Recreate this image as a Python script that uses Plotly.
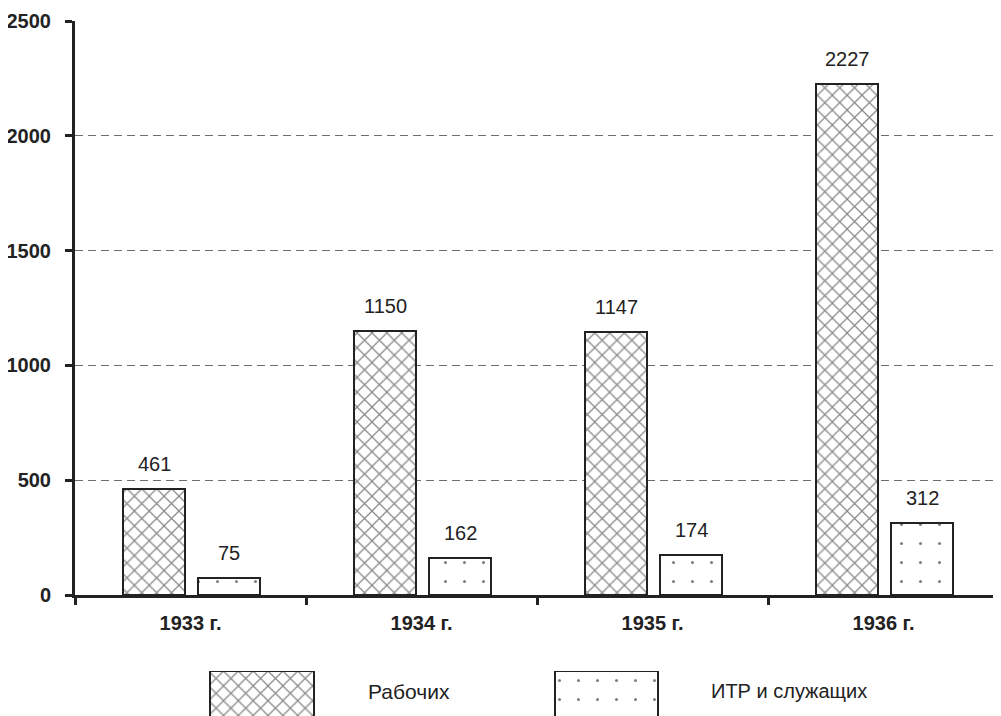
import plotly.graph_objects as go

# ---- data ----
years = ["1933 г.", "1934 г.", "1935 г.", "1936 г."]
workers = [461, 1150, 1147, 2227]
itr = [75, 162, 174, 312]
series_names = ["Рабочих", "ИТР и служащих"]
y_ticks = [0, 500, 1000, 1500, 2000, 2500]

FONT = "Liberation Sans, Arial, sans-serif"

PAGE_OFF = 8  # default body margin of the html page
W, H = 1001 - PAGE_OFF, 716 - PAGE_OFF
ML, MR, MT, MB = 75 - PAGE_OFF, 2, 21 - PAGE_OFF, 0
plot_w = W - ML - MR
plot_h = H - MT - MB
main_bottom = (716 - 595) / plot_h
leg_top = (716 - 671) / plot_h


def px_x(p):
    return (p - 75) / plot_w


def px_y(p):
    return (716 - p) / plot_h


cross = dict(shape="x", size=10.5, solidity=0.22, fgcolor="#111", bgcolor="white", fillmode="overlay")
dots = dict(shape=".", size=19, solidity=0.02, fgcolor="#000", bgcolor="white", fillmode="overlay")

BW = 0.27
OFF1, OFF2 = -0.292, 0.033

fig = go.Figure()
fig.add_trace(go.Bar(
    x=years, y=workers, name=series_names[0], width=BW, offset=OFF1,
    marker=dict(color="white", pattern=cross, line=dict(color="#222", width=2)),
    showlegend=False, hoverinfo="skip",
))
fig.add_trace(go.Bar(
    x=years, y=itr, name=series_names[1], width=BW, offset=OFF2,
    marker=dict(color="white", pattern=dots, line=dict(color="#222", width=2)),
    showlegend=False, hoverinfo="skip",
))

# value labels above bars
for i, (w, t) in enumerate(zip(workers, itr)):
    fig.add_annotation(x=i + OFF1 + BW / 2, y=w, text=str(w), showarrow=False,
                       xanchor="center", yanchor="middle", yshift=25, xref="x", yref="y",
                       font=dict(family=FONT, size=20, color="#222"))
    fig.add_annotation(x=i + OFF2 + BW / 2, y=t, text=str(t), showarrow=False,
                       xanchor="center", yanchor="middle", yshift=25, xref="x", yref="y",
                       font=dict(family=FONT, size=20, color="#222"))

# legend swatches (bottom subplot)
leg_x = [0.31, 1.80]
fig.add_trace(go.Bar(
    x=[leg_x[0]], y=[3], base=[-2], width=0.452, xaxis="x2", yaxis="y2",
    marker=dict(color="white", pattern=cross, line=dict(color="#222", width=2)),
    showlegend=False, hoverinfo="skip",
))
fig.add_trace(go.Bar(
    x=[leg_x[1]], y=[3], base=[-2], width=0.446, xaxis="x2", yaxis="y2",
    marker=dict(color="white", pattern=dots, line=dict(color="#222", width=2)),
    showlegend=False, hoverinfo="skip",
))
fig.add_annotation(x=px_x(366), y=px_y(691), xref="paper", yref="paper",
                   xanchor="left", yanchor="middle",
                   text=series_names[0], showarrow=False,
                   font=dict(family=FONT, size=21, color="#222"))
fig.add_annotation(x=px_x(709), y=px_y(691), xref="paper", yref="paper",
                   xanchor="left", yanchor="middle",
                   text=series_names[1], showarrow=False,
                   font=dict(family=FONT, size=20, color="#222"))

fig.update_layout(
    width=W, height=H,
    margin=dict(l=ML, r=MR, t=MT, b=MB, autoexpand=False),
    paper_bgcolor="white", plot_bgcolor="white",
    bargap=0, showlegend=False,
    xaxis=dict(
        type="category", range=[-0.5, 3.5], domain=[0, 1], automargin=False,
        anchor="y", showline=True, linecolor="#222", linewidth=3,
        ticks="outside", tickson="boundaries", ticklen=7, tickwidth=3, tickcolor="#222",
        ticklabelstandoff=8,
        tickfont=dict(family=FONT, size=20, color="#222", weight="bold"),
        showgrid=False, zeroline=False, fixedrange=True,
    ),
    yaxis=dict(
        range=[0, 2500], domain=[main_bottom, 1], anchor="x", automargin=False,
        tickmode="array", tickvals=y_ticks,
        showline=True, linecolor="#222", linewidth=3,
        ticks="outside", ticklen=7, tickwidth=3, tickcolor="#222",
        tickfont=dict(family=FONT, size=20, color="#222", weight="bold"),
        ticklabelstandoff=10,
        showgrid=False, zeroline=False,
        minor=dict(tickmode="array", tickvals=y_ticks[1:-1], showgrid=True,
                   gridcolor="#6e6e6e", gridwidth=1, griddash="8px,5px", ticks=""),
    ),
    xaxis2=dict(range=[-0.5, 3.5], domain=[0, 1], anchor="y2", visible=False, fixedrange=True),
    yaxis2=dict(range=[-1, 1.0], domain=[0, leg_top], anchor="x2", visible=False, fixedrange=True),
)

fig.write_html("out.html")
